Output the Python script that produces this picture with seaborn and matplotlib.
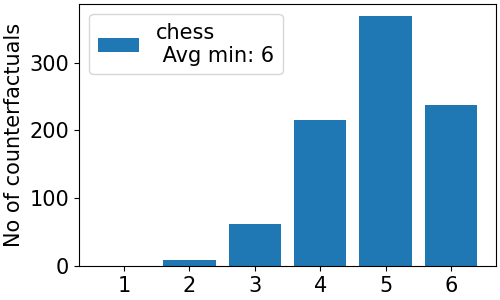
import matplotlib
matplotlib.use("Agg")
import matplotlib.pyplot as plt
import seaborn as sns

lengths = [1, 2, 3, 4, 5, 6]
counts = [0, 9, 62, 216, 368, 237]
label = "chess\n Avg min: 6"

plt.rcParams["font.size"] = 15

fig, ax = plt.subplots(figsize=(5, 3), dpi=100)
sns.barplot(x=lengths, y=counts, native_scale=True, color="#1f77b4",
            saturation=1, width=0.8, label=label, ax=ax)
ax.set_xticks(lengths)
ax.set_xlim(0.6 - 0.29, 6.4 + 0.29)
ax.set_ylabel("No of counterfactuals")
ax.legend(loc="upper left")
fig.subplots_adjust(left=0.158, right=0.992, top=0.987, bottom=0.113)
fig.savefig("out.png", dpi=100)
plt.close(fig)
